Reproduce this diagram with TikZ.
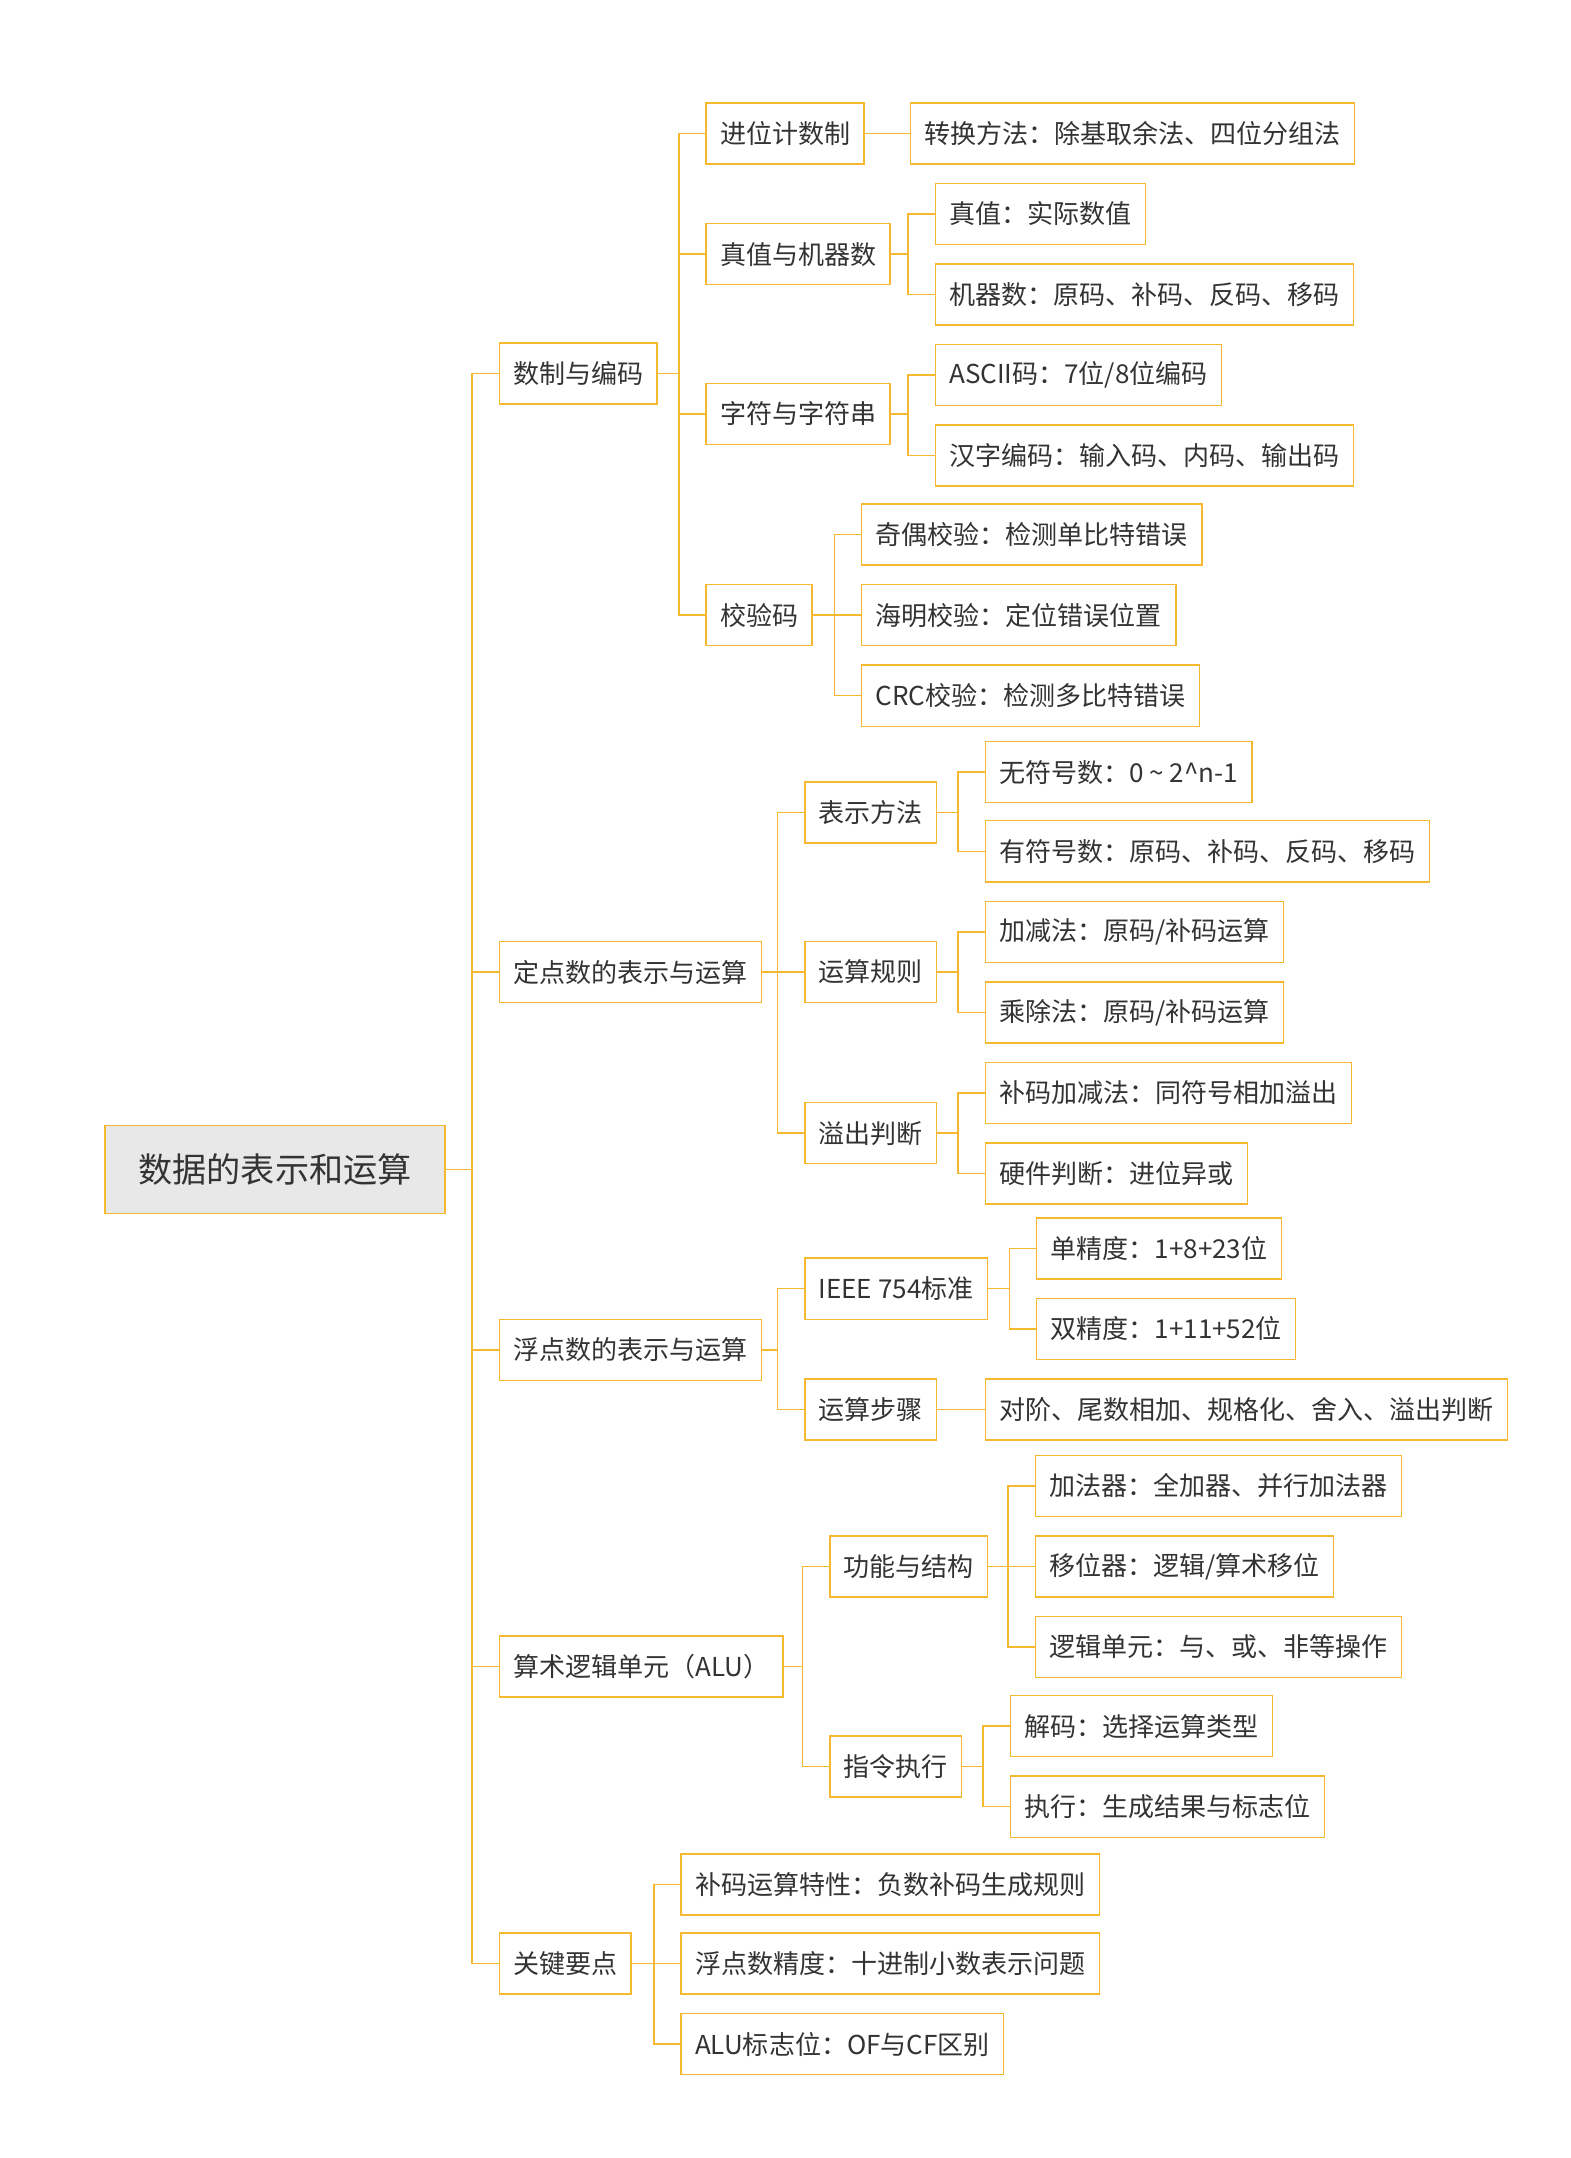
\documentclass[tikz,border=0pt]{standalone}
\usepackage{fontspec}
\setmainfont{Noto Sans CJK SC}
\usetikzlibrary{calc}
\definecolor{org}{HTML}{F5B82E}
\definecolor{txt}{HTML}{333333}
\begin{document}
\begin{tikzpicture}[x=0.03cm,y=-0.03cm,
 box/.style={draw=org,line width=0.9pt,anchor=west,minimum height=1.32cm,inner xsep=0.3cm,text=txt,font=\fontsize{16pt}{18pt}\selectfont},
 rootbox/.style={box,fill=gray!18,minimum width=7.35cm,minimum height=1.9cm,align=center,font=\fontsize{21pt}{24pt}\selectfont},
 ln/.style={draw=org,line width=0.9pt}]
\useasboundingbox (0,0) rectangle (1131,1554);
\node[rootbox] (r) at (75,842) {数据的表示和运算};
\node[box] (a) at (359,269) {数制与编码};
\node[box] (b) at (359,700) {定点数的表示与运算};
\node[box] (c) at (359,972) {浮点数的表示与运算};
\node[box] (d) at (359,1200) {算术逻辑单元（ALU）};
\node[box] (e) at (359,1414) {关键要点};
\node[box] (a1) at (508,96) {进位计数制};
\node[box] (a2) at (508,183) {真值与机器数};
\node[box] (a3) at (508,298) {字符与字符串};
\node[box] (a4) at (508,443) {校验码};
\node[box] (a11) at (655,96) {转换方法：除基取余法、四位分组法};
\node[box] (a21) at (673,154) {真值：实际数值};
\node[box] (a22) at (673,212) {机器数：原码、补码、反码、移码};
\node[box] (a31) at (673,270) {ASCII码：7位/8位编码};
\node[box] (a32) at (673,328) {汉字编码：输入码、内码、输出码};
\node[box] (a41) at (620,385) {奇偶校验：检测单比特错误};
\node[box] (a42) at (620,443) {海明校验：定位错误位置};
\node[box] (a43) at (620,501) {CRC校验：检测多比特错误};
\node[box] (b1) at (579,585) {表示方法};
\node[box] (b2) at (579,700) {运算规则};
\node[box] (b3) at (579,816) {溢出判断};
\node[box] (b11) at (709,556) {无符号数：0 \textasciitilde{} 2\^{}n-1};
\node[box] (b12) at (709,613) {有符号数：原码、补码、反码、移码};
\node[box] (b21) at (709,671) {加减法：原码/补码运算};
\node[box] (b22) at (709,729) {乘除法：原码/补码运算};
\node[box] (b31) at (709,787) {补码加减法：同符号相加溢出};
\node[box] (b32) at (709,845) {硬件判断：进位异或};
\node[box] (c1) at (579,928) {IEEE 754标准};
\node[box] (c2) at (579,1015) {运算步骤};
\node[box] (c11) at (746,899) {单精度：1+8+23位};
\node[box] (c12) at (746,957) {双精度：1+11+52位};
\node[box] (c21) at (709,1015) {对阶、尾数相加、规格化、舍入、溢出判断};
\node[box] (d1) at (597,1128) {功能与结构};
\node[box] (d2) at (597,1272) {指令执行};
\node[box] (d11) at (745,1070) {加法器：全加器、并行加法器};
\node[box] (d12) at (745,1128) {移位器：逻辑/算术移位};
\node[box] (d13) at (745,1186) {逻辑单元：与、或、非等操作};
\node[box] (d21) at (727,1243) {解码：选择运算类型};
\node[box] (d22) at (727,1301) {执行：生成结果与标志位};
\node[box] (e1) at (490,1357) {补码运算特性：负数补码生成规则};
\node[box] (e2) at (490,1414) {浮点数精度：十进制小数表示问题};
\node[box] (e3) at (490,1472) {ALU标志位：OF与CF区别};
\foreach \p/\cs in {r/{a,b,c,d,e},a/{a1,a2,a3,a4},a1/{a11},a2/{a21,a22},a3/{a31,a32},a4/{a41,a42,a43},
 b/{b1,b2,b3},b1/{b11,b12},b2/{b21,b22},b3/{b31,b32},c/{c1,c2},c1/{c11,c12},c2/{c21},
 d/{d1,d2},d1/{d11,d12,d13},d2/{d21,d22},e/{e1,e2,e3}}
 \foreach \ch in \cs
  \draw[ln] (\p.east) -| ($(\ch.west)+(-19,0)$) -- (\ch.west);
\end{tikzpicture}
\end{document}
